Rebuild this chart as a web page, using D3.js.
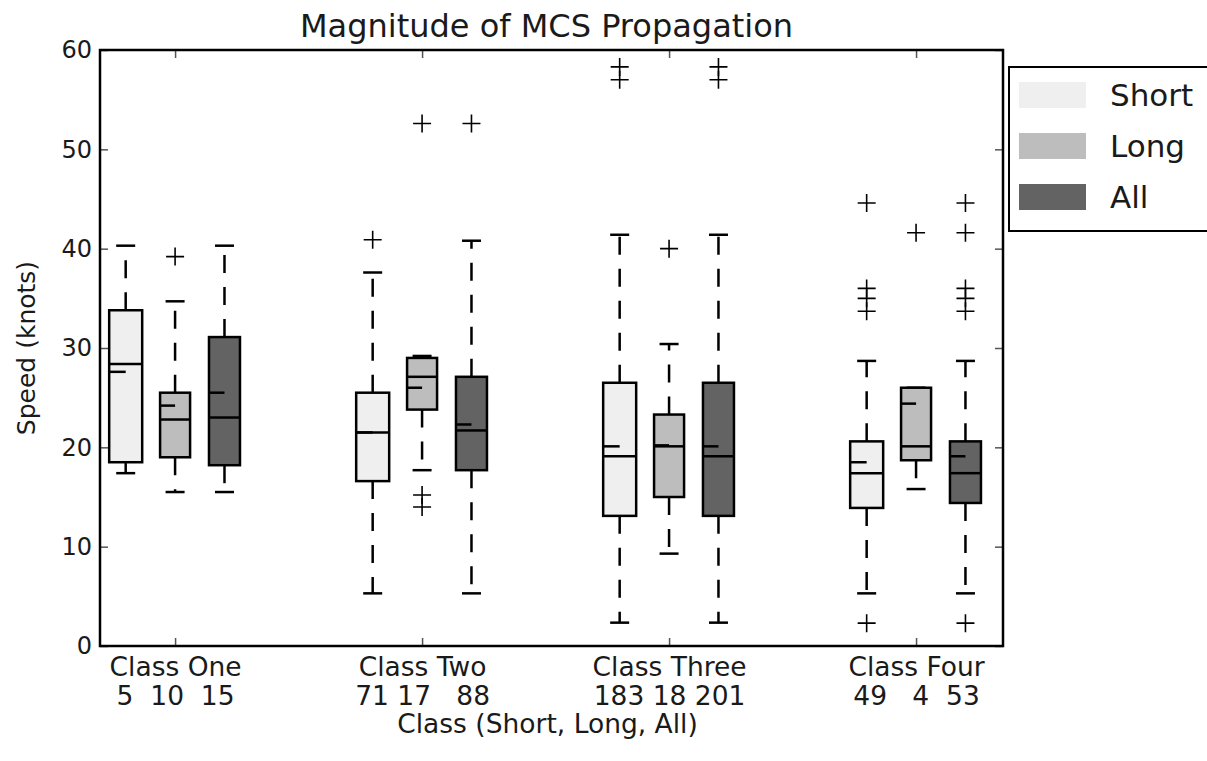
<!DOCTYPE html>
<html>
<head>
<meta charset="utf-8">
<script src="https://cdn.jsdelivr.net/npm/d3@7"></script>
<style>
  html, body { margin: 0; padding: 0; background: #fff; }
  svg { display: block; font-family: "DejaVu Sans", sans-serif; }
</style>
</head>
<body>
<svg id="chart" width="1207" height="761"></svg>
<script>
// ---------------- data ----------------
const classes = ["Class One", "Class Two", "Class Three", "Class Four"];
const countLabels = ["5  10  15", "71 17   88", "183 18 201", "49   4  53"];
const seriesNames = ["Short", "Long", "All"];
const yTicks = [0, 10, 20, 30, 40, 50, 60];

// box stats per class: [whiskerLow, q1, median, mean, q3, whiskerHigh]
const shortStats = [
  [17.4, 18.5, 28.4, 27.6, 33.8, 40.3],
  [5.3, 16.6, 21.5, 21.5, 25.5, 37.6],
  [2.35, 13.1, 19.1, 20.1, 26.5, 41.4],
  [5.3, 13.9, 17.4, 18.5, 20.6, 28.7]
];
const longStats = [
  [15.5, 19.0, 22.8, 24.2, 25.5, 34.7],
  [17.7, 23.8, 27.1, 26.0, 29.0, 29.2],
  [9.3, 15.0, 20.1, 20.2, 23.3, 30.4],
  [15.8, 18.7, 20.1, 24.4, 26.0, 26.0]
];
const allStats = [
  [15.5, 18.2, 23.0, 25.5, 31.1, 40.3],
  [5.3, 17.7, 21.7, 22.3, 27.1, 40.8],
  [2.35, 13.1, 19.1, 20.1, 26.5, 41.4],
  [5.3, 14.4, 17.4, 19.1, 20.6, 28.7]
];
const shortOutliers = [[], [40.9], [58.3, 57.0], [44.6, 36.0, 35.0, 33.7, 2.3]];
const longOutliers = [[39.2], [52.6, 15.2, 14.0], [40.0], [41.6]];
const allOutliers = [[], [52.6], [58.3, 57.0], [44.6, 41.6, 36.0, 35.0, 33.7, 2.3]];

// ---------------- layout / style ----------------
const colors = ["#efefef", "#bdbdbd", "#636363"];
const boxWidths = [33, 30, 31];
const classPos = [0, 5, 10, 15];
const seriesOffset = [-1, 0, 1];
const L = 100, R = 1003, T = 50, B = 646;
const textColor = "#1a1a1a";

const svg = d3.select("#chart");
const x = d3.scaleLinear().domain([-1.52, 16.76]).range([L, R]);
const y = d3.scaleLinear().domain([0, 60]).range([B, T]);

const series = [
  { name: seriesNames[0], stats: shortStats, out: shortOutliers },
  { name: seriesNames[1], stats: longStats, out: longOutliers },
  { name: seriesNames[2], stats: allStats, out: allOutliers }
];

// ---------------- axes ----------------
const tickStyle = (g, fs) => {
  g.select(".domain").remove();
  g.selectAll(".tick line").attr("stroke", "#555").attr("stroke-width", 1.5);
  g.selectAll(".tick text").attr("fill", textColor).attr("font-size", fs)
    .attr("font-family", "DejaVu Sans");
};

svg.append("g").attr("transform", `translate(${L},0)`)
  .call(d3.axisLeft(y).tickValues(yTicks).tickSize(-8).tickPadding(8).tickFormat(d3.format("d")))
  .call(tickStyle, 24);
svg.append("g").attr("transform", `translate(${R},0)`)
  .call(d3.axisRight(y).tickValues(yTicks).tickSize(-8).tickFormat(""))
  .call(tickStyle, 24);
svg.append("g").attr("transform", `translate(0,${T})`)
  .call(d3.axisTop(x).tickValues(classPos).tickSize(-8).tickFormat(""))
  .call(tickStyle, 24);
const xAxis = svg.append("g").attr("transform", `translate(0,${B})`)
  .call(d3.axisBottom(x).tickValues(classPos).tickSize(-8).tickPadding(10).tickFormat(""))
  .call(tickStyle, 26.5);

xAxis.selectAll(".tick text").each(function(d, i) {
  const t = d3.select(this).attr("y", 0).attr("dy", null).style("white-space", "pre");
  t.append("tspan").attr("x", 0).attr("y", 30).text(classes[i]);
  t.append("tspan").attr("x", 0).attr("y", 59).text(countLabels[i]);
});

// ---------------- boxes ----------------
const plot = svg.append("g");
series.forEach((s, si) => {
  s.stats.forEach((st, ci) => {
    const [lo, q1, med, mean, q3, hi] = st;
    const cx = x(classPos[ci] + seriesOffset[si]);
    const hw = boxWidths[si] / 2;
    const g = plot.append("g");
    // whiskers
    g.append("line").attr("x1", cx).attr("x2", cx).attr("y1", y(q1)).attr("y2", y(lo))
      .attr("stroke", "#000").attr("stroke-width", 2.5).attr("stroke-dasharray", "18,14");
    g.append("line").attr("x1", cx).attr("x2", cx).attr("y1", y(q3)).attr("y2", y(hi))
      .attr("stroke", "#000").attr("stroke-width", 2.5).attr("stroke-dasharray", "18,14");
    // caps
    [lo, hi].forEach(v => {
      g.append("line").attr("x1", cx - 9.5).attr("x2", cx + 9.5).attr("y1", y(v)).attr("y2", y(v))
        .attr("stroke", "#000").attr("stroke-width", 2.5);
    });
    // box
    g.append("rect").attr("x", cx - hw).attr("y", y(q3)).attr("width", hw * 2)
      .attr("height", y(q1) - y(q3)).attr("fill", colors[si])
      .attr("stroke", "#000").attr("stroke-width", 2.5);
    // median
    g.append("line").attr("x1", cx - hw).attr("x2", cx + hw).attr("y1", y(med)).attr("y2", y(med))
      .attr("stroke", "#000").attr("stroke-width", 2.5);
    // mean (half line)
    g.append("line").attr("x1", cx - hw).attr("x2", cx).attr("y1", y(mean)).attr("y2", y(mean))
      .attr("stroke", "#000").attr("stroke-width", 2.5);
    // outliers
    s.out[ci].forEach(v => {
      g.append("path")
        .attr("d", `M${cx - 9},${y(v)}H${cx + 9}M${cx},${y(v) - 9}V${y(v) + 9}`)
        .attr("stroke", "#000").attr("stroke-width", 1.6).attr("fill", "none");
    });
  });
});

// frame
svg.append("rect").attr("x", L).attr("y", T).attr("width", R - L).attr("height", B - T)
  .attr("fill", "none").attr("stroke", "#000").attr("stroke-width", 2.5);

// ---------------- titles ----------------
svg.append("text").attr("x", (L + R) / 2 - 5).attr("y", 37).attr("text-anchor", "middle")
  .attr("font-size", 32).attr("fill", textColor).text("Magnitude of MCS Propagation");
svg.append("text").attr("x", (L + R) / 2 - 4).attr("y", 733).attr("text-anchor", "middle")
  .attr("font-size", 26.5).attr("fill", textColor).text("Class (Short, Long, All)");
svg.append("text").attr("transform", `translate(35,${(T + B) / 2}) rotate(-90)`)
  .attr("text-anchor", "middle").attr("font-size", 25).attr("fill", textColor)
  .text("Speed (knots)");

// ---------------- legend ----------------
const lg = svg.append("g");
lg.append("rect").attr("x", 1009).attr("y", 67).attr("width", 220).attr("height", 164)
  .attr("fill", "#fff").attr("stroke", "#000").attr("stroke-width", 2);
seriesNames.forEach((n, i) => {
  const py = 82 + i * 51;
  lg.append("rect").attr("x", 1019).attr("y", py).attr("width", 67).attr("height", 26)
    .attr("fill", colors[i]);
  lg.append("text").attr("x", 1110).attr("y", py + 13).attr("dy", "0.35em")
    .attr("font-size", 31).attr("fill", textColor).text(n);
});
</script>
</body>
</html>
